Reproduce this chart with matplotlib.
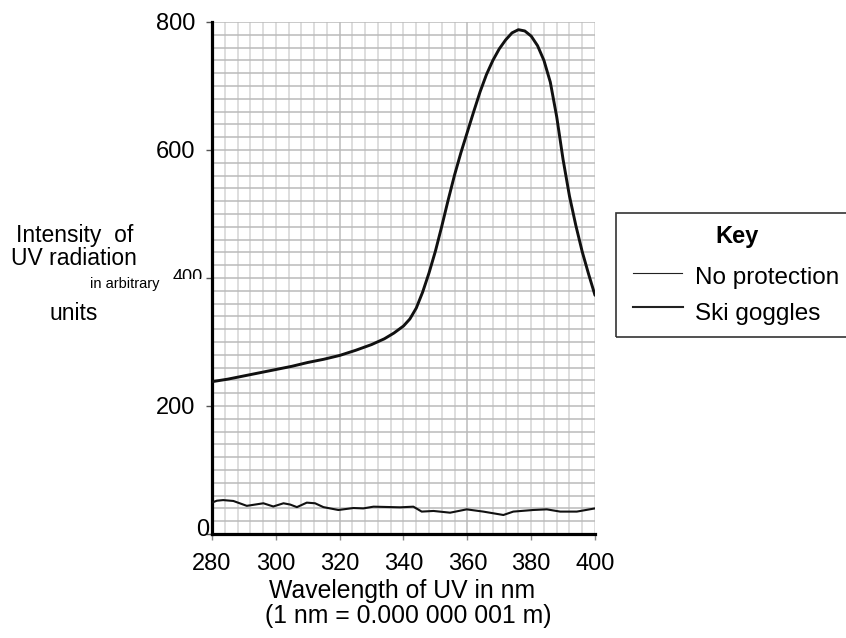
import numpy as np
import matplotlib
matplotlib.use('Agg')
import matplotlib.pyplot as plt
from matplotlib.lines import Line2D
from matplotlib.patches import Rectangle
from matplotlib.transforms import Bbox
import matplotlib.transforms as mtransforms

plt.rcParams['font.family'] = ['Liberation Sans', 'DejaVu Sans']

# ---- data ----
wl_none = [280, 285, 290, 295, 300, 305, 310, 315, 320, 325, 330, 334, 337, 340,
           342, 344, 346, 348, 350, 352, 354, 356, 358, 360, 362, 364, 366, 368,
           370, 372, 374, 376, 378, 380, 382, 384, 386, 388, 390, 392, 394, 396,
           398, 400]
int_none = [238, 242, 247, 252, 257, 262, 268, 273, 279, 287, 296, 305, 314, 325,
            336, 353, 378, 408, 442, 481, 522, 561, 596, 628, 660, 691, 718, 740,
            758, 772, 783, 788, 786, 778, 763, 740, 706, 652, 585, 528, 482, 441,
            406, 373]

wl_ski = [280, 281.5, 283.5, 286.7, 290.9, 293.5, 296.1, 299.2, 302.4, 304.5,
          306.6, 309.7, 312.3, 314.9, 319.6, 324.3, 327.4, 330.6, 338.9, 343.1,
          345.7, 349.4, 354.6, 359.8, 365.0, 371.3, 374.4, 380.6, 384.9, 389.1,
          394.3, 400]
int_ski = [49, 52, 53, 51.6, 44, 46, 48, 43, 48, 46, 42, 49, 48, 42, 37.5, 40.6,
           40, 42.7, 41.7, 42.7, 35, 36, 33.3, 38.5, 35, 29.7, 35, 37.5, 38.5, 35,
           35, 40]

x_ticks = [280, 300, 320, 340, 360, 380, 400]
y_ticks = [0, 200, 400, 600, 800]
y_tick_labels = ['0', '200', '400', '600', '800']
series_names = ['No protection', 'Ski goggles']
key_title = 'Key'
x_label_lines = ['Wavelength of UV in nm', '(1 nm = 0.000 000 001 m)']

W, H = 846, 638
fig = plt.figure(figsize=(W / 100, H / 100), dpi=100)


def fx(px):
    return px / W


def fy(py):
    return 1 - py / H


ax = fig.add_axes([fx(212), fy(534), (595 - 212) / W, (534 - 22) / H])
ax.set_xlim(280, 400)
ax.set_ylim(0, 800)

# grid
ax.set_xticks(x_ticks)
ax.set_xticks(np.arange(280, 401, 4), minor=True)
ax.set_yticks(y_ticks)
ax.set_yticks(np.arange(0, 801, 20), minor=True)
ax.grid(which='both', axis='x', color='#d4d4d4', lw=1.1, zorder=0)
ax.grid(which='both', axis='y', color='#bababa', lw=1.1, zorder=0)
for xv in (320, 360):
    ax.axvline(xv, color='#a6a6a6', lw=1.3, zorder=0.5)
ax.set_axisbelow(True)

# curves
ax.plot(wl_none, int_none, color='#111111', lw=2.1, zorder=3,
        solid_capstyle='round', solid_joinstyle='round')
ax.plot(wl_ski, int_ski, color='#111111', lw=1.5, zorder=3,
        solid_joinstyle='round')

# spines
for s in ('top', 'right'):
    ax.spines[s].set_visible(False)
for s in ('left', 'bottom'):
    ax.spines[s].set_linewidth(2.3)
    ax.spines[s].set_color('#000000')

ax.tick_params(axis='both', which='minor', length=0)
ax.tick_params(axis='y', which='major', length=4, width=1, color='#555555',
               pad=8, labelsize=17)
ax.tick_params(axis='x', which='major', length=4, width=1, color='#888888',
               pad=9.5, labelsize=17)
ax.set_yticklabels([l if v not in (0, 400) else '' for v, l in zip(y_ticks, y_tick_labels)])

# special y tick labels (0 near the spine, small clipped 400)
trans = mtransforms.blended_transform_factory(ax.transAxes, ax.transData)
ax.text(-0.025, y_ticks[0] + 6, y_tick_labels[0], transform=trans, ha='center',
        va='center', fontsize=17, clip_on=False)
t400 = fig.text(fx(188), fy(281.5), y_tick_labels[2], ha='center', va='baseline',
                fontsize=13)
t400.set_clip_box(Bbox.from_extents(150, H - 279, 210, H - 255))
t400.set_clip_on(True)

# y label (multi-part, as in the original)
fig.text(fx(75), fy(242), 'Intensity  of', ha='center', va='baseline', fontsize=16.5)
fig.text(fx(74), fy(265), 'UV radiation', ha='center', va='baseline', fontsize=16.5)
fig.text(fx(125), fy(288), 'in arbitrary', ha='center', va='baseline', fontsize=10.5)
fig.text(fx(74), fy(320), 'units', ha='center', va='baseline', fontsize=16.5)

# x label
fig.text(fx(402), fy(598), x_label_lines[0], ha='center', va='baseline', fontsize=17.8)
fig.text(fx(408), fy(623), x_label_lines[1], ha='center', va='baseline', fontsize=17.8)

# key box
fig.patches.append(Rectangle((fx(616), fy(337)), (860 - 616) / W, (337 - 213) / H,
                             transform=fig.transFigure, fill=False,
                             edgecolor='#333333', lw=1.2))
fig.text(fx(737), fy(243), key_title, ha='center', va='baseline', fontsize=17,
         fontweight='bold')
fig.lines.append(Line2D([fx(633), fx(682)], [fy(273), fy(273)],
                        transform=fig.transFigure, color='#222222', lw=0.8))
fig.lines.append(Line2D([fx(633), fx(683)], [fy(307), fy(307)],
                        transform=fig.transFigure, color='#222222', lw=1.5))
fig.text(fx(695), fy(284), series_names[0], ha='left', va='baseline', fontsize=17.5)
fig.text(fx(695), fy(320), series_names[1], ha='left', va='baseline', fontsize=17.5)

fig.savefig('out.png', dpi=100)
